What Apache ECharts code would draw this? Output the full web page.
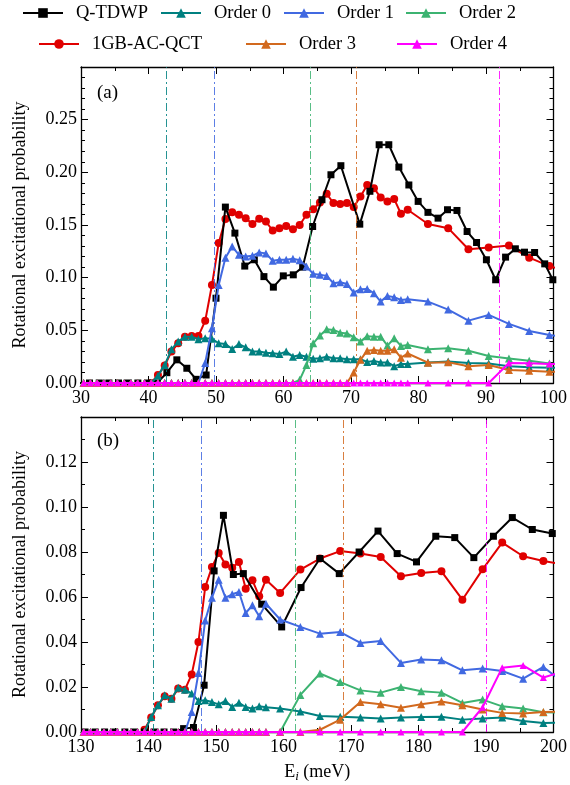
<!DOCTYPE html>
<html><head><meta charset="utf-8">
<script src="https://cdn.jsdelivr.net/npm/echarts@6/dist/echarts.min.js"></script>
<style>html,body{margin:0;padding:0;background:#fff}#c{width:570px;height:785px}</style>
</head><body><div id="c"></div>
<script>
// ---------------- Panel (a) ----------------
const tdwpA_E = [29.83,31.26,32.7,34.13,35.56,36.99,38.42,39.86,41.29,
  42.72,44.2,45.68,47.06,48.54, 50.0,51.39,52.8,54.26,55.68, 57.1,58.5,59.97,61.45,62.84,
  64.32,65.7,67.03,68.5,71.3, 72.8,74.17,75.6,77.09,78.57, 79.95,81.4,82.9,84.3,85.7,
  87.2,88.6,90.06,91.43,92.9, 94.35,95.7,97.2,98.7,99.9];
const tdwpA_P = [0,0,0,0,0,0,0,0,0,
  0.0098,0.022,0.014,0.0035,0.0076, 0.0805,0.167,0.1423,0.111,0.117, 0.101,0.091,0.1017,0.1027,0.11,
  0.1486,0.174,0.1977,0.2063,0.1508, 0.182,0.2262,0.2262,0.205,0.188, 0.1724,0.162,0.1565,0.1645,0.1638,
  0.1438,0.1334,0.117,0.098,0.1195, 0.1274,0.1242,0.1239,0.1131,0.098];

const qctA_E = [30.4,31.4,32.4,33.4,34.4,35.4,36.4,37.4,38.4,39.4,
  40.4,41.4,42.4,43.4,44.4,45.4,46.4,47.4,48.4,49.4,
  50.4,51.4,52.4,53.4,54.4,55.4,56.4,57.4,58.4,59.4,
  60.4,61.4,62.4,63.4,64.4,65.4,66.4,67.4,68.4,69.4,
  70.4,71.4,72.4,73.4,74.4,75.4,76.4,77.4,78.4,
  81.4,84.4,87.4,90.4,93.4,96.4,99.4,102.4];
const qctA_P = [null,null,null,null,null,null,null,null,null,null,
  0,0.0076,0.0165,0.0298,0.0377,0.044,0.0447,0.0447,0.059,0.093,
  0.133,0.1556,0.162,0.1597,0.1565,0.151,0.156,0.1533,0.1448,0.147,
  0.149,0.146,0.150,0.1597,0.165,0.1714,0.1797,0.1708,0.170,0.1708,
  0.167,0.177,0.188,0.185,0.176,0.1724,0.1746,0.1607,0.1645,
  0.151,0.147,0.127,0.1286,0.1305,0.119,0.111,0.105];
const ord0A_P = [0,0,0,0,0,0,0,0,0,0,
  0,0.007,0.017,0.032,0.0393,0.044,0.044,0.0415,0.0425,0.042,
  0.0377,0.037,0.0323,0.037,0.0339,0.0298,0.0298,0.0288,0.0282,0.0276,
  0.0298,0.025,0.0266,0.025,0.023,0.0235,0.025,0.0235,0.0235,0.0225,
  0.0225,0.0225,0.020,0.021,0.0195,0.0195,0.016,0.018,0.018,
  0.0195,0.0205,0.019,0.0185,0.016,0.015,0.0145,0.014];
const ord1A_P = [0,0,0,0,0,0,0,0,0,0,
  0,0,0,0,0,0,0,0,0.019,0.052,
  0.093,0.119,0.1295,0.1217,0.120,0.1207,0.124,0.123,0.116,0.117,
  0.117,0.118,0.1165,0.1106,0.1036,0.1027,0.1017,0.0947,0.0957,0.094,
  0.0858,0.089,0.0893,0.0852,0.0773,0.0827,0.0814,0.0789,0.0795,
  0.0773,0.0697,0.0592,0.0646,0.0561,0.0494,0.0456,0.043];
const ord2A_P = [0,0,0,0,0,0,0,0,0,0,
  0,0,0,0,0,0,0,0,0,0,
  0,0,0,0,0,0,0,0,0,0,
  0,0,0.003,0.017,0.0377,0.045,0.051,0.0504,0.0478,0.047,
  0.0435,0.0393,0.0445,0.044,0.044,0.0355,0.0425,0.0352,0.036,
  0.032,0.033,0.0307,0.0257,0.0232,0.0212,0.0185,0.0175];
const ord3A_P = [0,0,0,0,0,0,0,0,0,0,
  0,0,0,0,0,0,0,0,0,0,
  0,0,0,0,0,0,0,0,0,0,
  0,0,0,0,0,0,0,0,0,0,
  0.010,0.022,0.0307,0.0314,0.0307,0.0307,0.032,0.024,0.028,
  0.0193,0.0198,0.016,0.017,0.0124,0.0117,0.0107,0.0105];
const ord4A_P = [0,0,0,0,0,0,0,0,0,0,
  0,0,0,0,0,0,0,0,0,0,
  0,0,0,0,0,0,0,0,0,0,
  0,0,0,0,0,0,0,0,0,0,
  0,0,0,0,0,0,0,0,0,
  0,0,0,0,0.019,0.0187,0.018,0.018];
// threshold energies (Order 0..4)
const thrA = [42.7, 49.75, 63.9, 70.8, 92.0];

// ---------------- Panel (b) ----------------
const tdwpB_E = [130.6,132.1,133.5,135.0,136.5,137.9,139.4,140.85,142.3,143.7,
  145.2,146.66,148.24,149.72,151.1,152.57,154.05,156.77,159.73,162.6,
  165.4,168.26,171.2,174.0,176.84,179.7,182.56,185.37,188.2,191.1,193.9,196.86,199.82];
const tdwpB_P = [0,0,0,0,0,0,0,0,0,0,
  0.0015,0.002,0.0208,0.0716,0.0963,0.070,0.0704,0.0568,0.0467,0.0642,
  0.0771,0.0704,0.080,0.0893,0.0793,0.0756,0.087,0.0864,0.0775,0.087,0.0953,0.090,0.0882];

const qctB_E = [130.4,131.4,132.4,133.4,134.4,135.4,136.4,137.4,138.4,139.4,
  140.4,141.4,142.4,143.4,144.4,145.4,146.4,147.4,148.4,149.4,
  150.4,151.4,152.4,153.4,154.4,155.4,156.4,157.4,159.5,
  162.5,165.4,168.4,171.4,174.4,177.4,180.4,183.4,186.5,189.5,192.4,195.5,198.5,201.5];
const qctB_P = [null,null,null,null,null,null,null,null,null,0.001,
  0.0064,0.0119,0.0159,0.0148,0.0193,0.0188,0.0256,0.040,0.0644,0.0733,
  0.0796,0.0745,0.073,0.0756,0.0637,0.0674,0.0603,0.0677,0.0618,
  0.0722,0.0771,0.0804,0.0793,0.0778,0.0692,0.0707,0.0714,0.0588,0.0723,0.0842,0.0781,0.076,0.0745];
const ord0B_P = [0,0,0,0,0,0,0,0,0,0,
  0.0067,0.0119,0.0163,0.0148,0.0197,0.0188,0.0171,0.0138,0.0141,0.0133,
  0.0123,0.0138,0.0111,0.013,0.0111,0.0104,0.0114,0.011,0.0104,
  0.0091,0.0071,0.0068,0.0064,0.006,0.0064,0.0067,0.0068,0.0055,0.006,0.0064,0.0049,0.004,0.0042];
const ord1B_P = [0,0,0,0,0,0,0,0,0,0,
  0,0,0,0,0,0,0.0089,0.0262,0.0496,0.0597,
  0.0677,0.0597,0.0612,0.0622,0.0529,0.0563,0.0514,0.057,0.050,
  0.0467,0.0437,0.0444,0.0396,0.0404,0.0307,0.0322,0.0319,0.0274,0.0282,0.0271,0.0237,0.0289,0.022];
const ord2B_P = [0,0,0,0,0,0,0,0,0,0,
  0,0,0,0,0,0,0,0,0,0,
  0,0,0,0,0,0,0,0,0,
  0.0165,0.026,0.0222,0.0185,0.0175,0.020,0.0181,0.0175,0.0129,0.0144,0.0114,0.0104,0.0088,0.0085];
const ord3B_P = [0,0,0,0,0,0,0,0,0,0,
  0,0,0,0,0,0,0,0,0,0,
  0,0,0,0,0,0,0,0,0,
  0,0.001,0.0055,0.0133,0.0123,0.0108,0.0123,0.0136,0.0119,0.010,0.0085,0.0082,0.0089,0.009];
const ord4B_P = [0,0,0,0,0,0,0,0,0,0,
  0,0,0,0,0,0,0,0,0,0,
  0,0,0,0,0,0,0,0,0,
  0,0,0,0,0,0,0,0,0,0.011,0.0286,0.0296,0.0242,0.027];
const thrB = [140.7, 147.75, 161.7, 168.85, 190.05];

const names = ['Q-TDWP','1GB-AC-QCT','Order 0','Order 1','Order 2','Order 3','Order 4'];

// ---------------- styling ----------------
const FONT = 'Liberation Serif';
const COL = {'Q-TDWP':'#000000','1GB-AC-QCT':'#e00000','Order 0':'#008080','Order 1':'#4169e1',
  'Order 2':'#3cb371','Order 3':'#d2691e','Order 4':'#ff00ff'};
const SYM = {'Q-TDWP':['rect',7],'1GB-AC-QCT':['circle',8],'Order 0':['triangle',8],'Order 1':['triangle',8],
  'Order 2':['triangle',8],'Order 3':['triangle',8],'Order 4':['triangle',7]};

const zip = (xs, ys) => xs.map((x, i) => [x, ys[i]]);

const grids = [
  {left:81, top:67, width:475, height:316},
  {left:81, top:417, width:475, height:315}
];

function xAx(gi, min, max, pos, showLabel, extra) {
  return Object.assign({
    type:'value', gridIndex:gi, min, max, interval:10, position:pos,
    axisLine:{onZero:false, lineStyle:{color:'#000', width:1.3}},
    axisTick:{inside:true, length:7, lineStyle:{color:'#000', width:1}},
    minorTick:{show:true, splitNumber:2, length:4, lineStyle:{color:'#000', width:1}},
    splitLine:{show:false},
    axisLabel:{show:showLabel, margin:6, color:'#000', fontFamily:FONT, fontSize:18}
  }, extra || {});
}
function yAx(gi, max, interval, minorSplit, pos, showLabel, extra) {
  return Object.assign({
    type:'value', gridIndex:gi, min:0, max, interval, position:pos,
    axisLine:{onZero:false, lineStyle:{color:'#000', width:1.3}},
    axisTick:{inside:true, length:7, lineStyle:{color:'#000', width:1}},
    minorTick:{show:true, splitNumber:minorSplit, length:4, lineStyle:{color:'#000', width:1}},
    splitLine:{show:false},
    axisLabel:{show:showLabel, margin:4, color:'#000', fontFamily:FONT, fontSize:18, showMaxLabel:false,
      formatter: v => v.toFixed(2)}
  }, extra || {});
}
const yName = {name:'Rotational excitational probability', nameLocation:'middle', nameGap:52,
  nameTextStyle:{fontFamily:FONT, fontSize:18, color:'#000'}};

const xAxis = [
  xAx(0, 30, 100, 'bottom', true),
  xAx(0, 30, 100, 'top', false),
  xAx(1, 130, 200, 'bottom', true, {
    name:'{n|E}{s|i}{n| (meV)}', nameLocation:'middle', nameGap:30,
    nameTextStyle:{color:'#000', rich:{
      n:{fontFamily:FONT, fontSize:18, color:'#000'},
      s:{fontFamily:FONT, fontSize:13, fontStyle:'italic', color:'#000', padding:[8,0,0,0]}
    }}
  }),
  xAx(1, 130, 200, 'top', false)
];
const yAxis = [
  yAx(0, 0.30, 0.05, 5, 'left', true, yName),
  yAx(0, 0.30, 0.05, 5, 'right', false),
  yAx(1, 0.14, 0.02, 2, 'left', true, yName),
  yAx(1, 0.14, 0.02, 2, 'right', false)
];

function mkSeries(panel, name, xs, ys, z, thrX) {
  const s = {
    type:'line', name, xAxisIndex:panel*2, yAxisIndex:panel*2,
    data: zip(xs, ys), clip:true, animation:false,
    symbol: SYM[name][0], symbolSize: SYM[name][1],
    lineStyle:{color:COL[name], width:2},
    itemStyle:{color:COL[name]},
    z
  };
  if (thrX !== undefined) {
    s.markLine = {
      silent:true, symbol:'none', animation:false, label:{show:false},
      lineStyle:{color:COL[name], width:1, type:[8,3,2,3], opacity:0.85},
      emphasis:{disabled:true},
      data:[{xAxis:thrX}]
    };
  }
  return s;
}

const series = [
  mkSeries(0, '1GB-AC-QCT', qctA_E, qctA_P, 3),
  mkSeries(0, 'Q-TDWP', tdwpA_E, tdwpA_P, 4),
  mkSeries(0, 'Order 0', qctA_E, ord0A_P, 5, thrA[0]),
  mkSeries(0, 'Order 1', qctA_E, ord1A_P, 6, thrA[1]),
  mkSeries(0, 'Order 2', qctA_E, ord2A_P, 7, thrA[2]),
  mkSeries(0, 'Order 3', qctA_E, ord3A_P, 8, thrA[3]),
  mkSeries(0, 'Order 4', qctA_E, ord4A_P, 9, thrA[4]),
  mkSeries(1, '1GB-AC-QCT', qctB_E, qctB_P, 3),
  mkSeries(1, 'Q-TDWP', tdwpB_E, tdwpB_P, 4),
  mkSeries(1, 'Order 0', qctB_E, ord0B_P, 5, thrB[0]),
  mkSeries(1, 'Order 1', qctB_E, ord1B_P, 6, thrB[1]),
  mkSeries(1, 'Order 2', qctB_E, ord2B_P, 7, thrB[2]),
  mkSeries(1, 'Order 3', qctB_E, ord3B_P, 8, thrB[3]),
  mkSeries(1, 'Order 4', qctB_E, ord4B_P, 9, thrB[4])
];

const legendPos = {
  'Q-TDWP':[22,2], 'Order 0':[160,2], 'Order 1':[283,2], 'Order 2':[405,2],
  '1GB-AC-QCT':[38,33], 'Order 3':[245,33], 'Order 4':[396,33]
};
const legend = names.map(n => ({
  data:[n], left:legendPos[n][0], top:legendPos[n][1], padding:0,
  itemWidth:40, itemHeight:12, selectedMode:false,
  textStyle:{fontFamily:FONT, fontSize:18.5, color:'#000', padding:[0,0,0,8], lineHeight:22}
}));

const chart = echarts.init(document.getElementById('c'));
chart.setOption({
  backgroundColor:'#fff',
  animation:false,
  title:[
    {text:'(a)', left:97, top:84, padding:0, textStyle:{fontFamily:FONT, fontSize:19, fontWeight:'normal', color:'#000'}},
    {text:'(b)', left:97, top:432, padding:0, textStyle:{fontFamily:FONT, fontSize:19, fontWeight:'normal', color:'#000'}}
  ],
  legend,
  grid: grids,
  xAxis, yAxis, series
});
</script></body></html>
